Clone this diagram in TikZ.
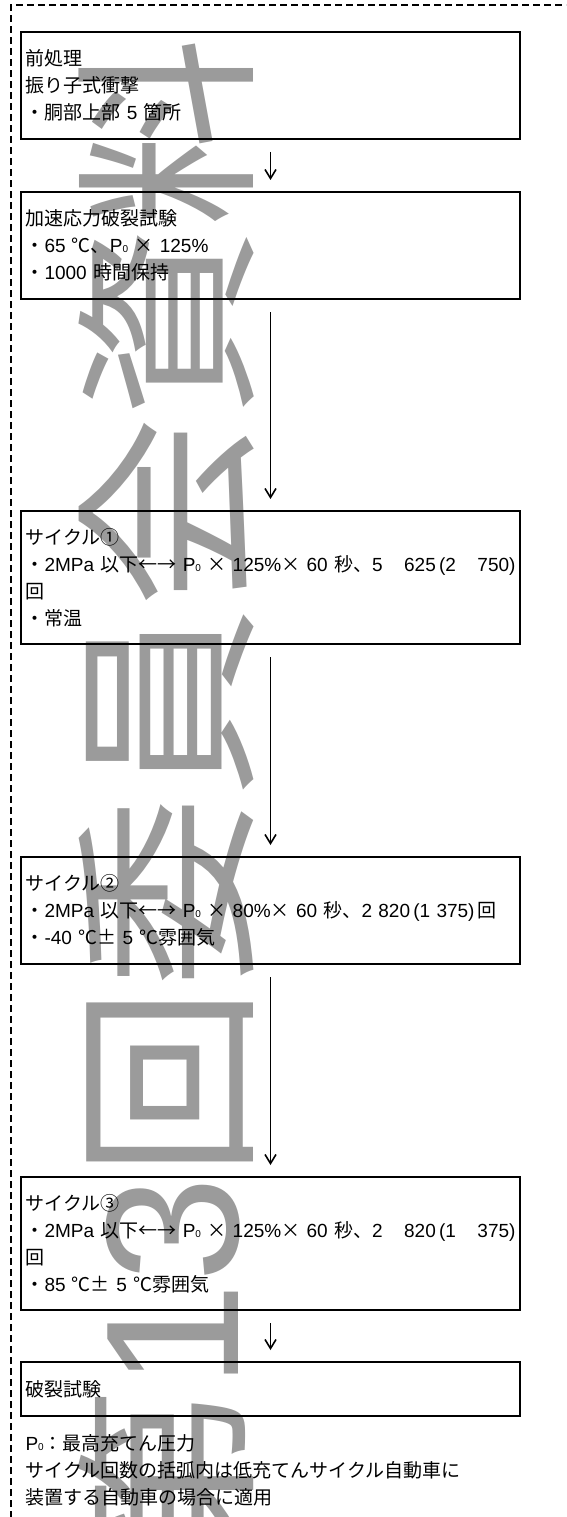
\documentclass[tikz,border=0pt]{standalone}
\usepackage{fontspec}
\setmainfont{Liberation Sans}
\newfontfamily\jp{Noto Sans CJK JP}
\usetikzlibrary{positioning,arrows.meta}
\definecolor{stampgray}{RGB}{155,155,155}
\newcommand{\Pzero}{P{\fontsize{10}{10}\selectfont 0}}

\begin{document}
\begin{tikzpicture}[
    x=1pt, y=1pt,
    arrowstyle/.style={draw, line width=1.6pt, -{Straight Barb[length=9pt,width=11pt]},
        shorten <=13pt, shorten >=12pt},
    frame/.style={draw, line width=1.6pt, dash pattern=on 7pt off 4pt},
    stage/.style={rectangle, draw, line width=2pt, outer sep=0pt, text width=490pt,
        inner xsep=4.5pt, inner ysep=0pt, align=left, font=\fontsize{19}{27}\selectfont},
    note/.style={rectangle, outer sep=0pt, inner xsep=4.5pt, inner ysep=0pt,
        align=left, font=\fontsize{19}{27}\selectfont},
    stamp/.style={text=stampgray, inner sep=0pt, rotate=90, anchor=base east,
        font=\fontsize{190}{190}\selectfont}
]
\useasboundingbox (0,0) rectangle (566,-1517);
\clip (0,0) rectangle (566,-1517);

\node (Stamp) [stamp] at (238,-37) {{\jp 第}13{\jp 回委員会資料}};

\draw[frame] (11,-1540) -- (11,-5) -- (590,-5);

\node (Pretreatment) [stage, minimum height=107pt, anchor=north] at (270.5,-32)
  {{\jp 前処理}\\{\jp 振り子式衝撃}\\{\jp ・胴部上部} 5 {\jp 箇所}};
\node (Stress) [stage, minimum height=107pt, below=53pt of Pretreatment]
  {{\jp 加速応力破裂試験}\\{\jp ・}65 {\jp ℃、}\Pzero{} {\jp ×} 125\%\\{\jp ・}1000 {\jp 時間保持}};
\node (Cycle01) [stage, minimum height=133pt, below=212pt of Stress]
  {{\jp サイクル①}\\{\jp ・}2MPa {\jp 以下←→} \Pzero{} {\jp ×} 125\%{\jp ×} 60 {\jp 秒、}5\hfill 625\,(2\hfill 750)\\{\jp 回}\\{\jp ・常温}};
\node (Cycle02) [stage, minimum height=107pt, below=213pt of Cycle01]
  {{\jp サイクル②}\\\mbox{{\jp ・}2MPa {\jp 以下←→} \Pzero{} {\jp ×} 80\%{\jp ×} 60 {\jp 秒、}2 820\,(1 375)\,{\jp 回}}\\{\jp ・}-40 {\jp ℃±} 5 {\jp ℃雰囲気}};
\node (Cycle03) [stage, minimum height=133pt, below=213pt of Cycle02]
  {{\jp サイクル③}\\{\jp ・}2MPa {\jp 以下←→} \Pzero{} {\jp ×} 125\%{\jp ×} 60 {\jp 秒、}2\hfill 820\,(1\hfill 375)\\{\jp 回}\\{\jp ・}85 {\jp ℃±} 5 {\jp ℃雰囲気}};
\node (Burst) [stage, minimum height=54pt, below=52pt of Cycle03]
  {{\jp 破裂試験}};
\node (Notes) [note, below=19pt of Burst.south west, anchor=north west]
  {\Pzero{\jp ：最高充てん圧力}\\{\jp サイクル回数の括弧内は低充てんサイクル自動車に}\\{\jp 装置する自動車の場合に適用}};

\draw[arrowstyle] (Pretreatment) -- (Stress);
\draw[arrowstyle] (Stress) -- (Cycle01);
\draw[arrowstyle] (Cycle01) -- (Cycle02);
\draw[arrowstyle] (Cycle02) -- (Cycle03);
\draw[arrowstyle] (Cycle03) -- (Burst);

\end{tikzpicture}
\end{document}
